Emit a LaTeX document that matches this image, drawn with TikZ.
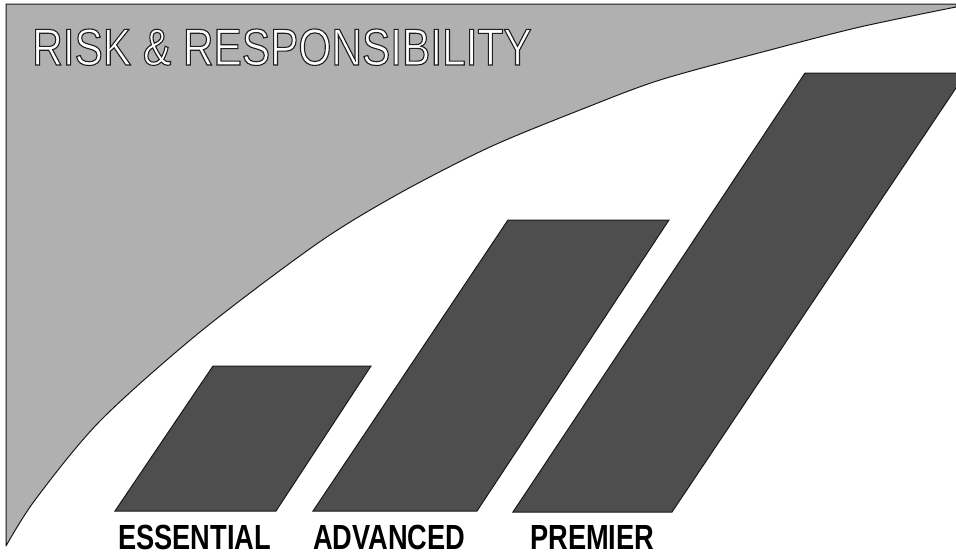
\documentclass[tikz,border=0pt]{standalone}
\usepackage{fontspec}
\setmainfont{Liberation Sans}
\newfontfamily\titlefont[FakeStretch=0.82]{Liberation Sans}
\newfontfamily\tierfont[FakeStretch=0.78]{Liberation Sans}
\definecolor{riskfill}{RGB}{176,176,176}
\definecolor{tierfill}{RGB}{78,78,78}
\definecolor{inkline}{RGB}{25,25,25}
% white letters with a dark stroked outline (text render mode 2)
\newcommand\hollowtext[1]{\special{pdf:literal direct 2 Tr 1.1 w 0.12 G}#1\special{pdf:literal direct 0 Tr}}
\tikzset{
  riskarea/.style={fill=riskfill, draw=inkline, line width=1pt, line join=round},
  tierbar/.style={fill=tierfill, draw=inkline, line width=1pt, line join=miter},
  tierlabel/.style={anchor=base west, inner sep=0pt, text=black, text depth=0pt,
    font=\tierfont\bfseries\fontsize{34.9}{40}\selectfont},
  headline/.style={anchor=base west, inner sep=0pt, text=white,
    font=\titlefont\fontsize{51.7}{60}\selectfont}
}
\begin{document}
\begin{tikzpicture}[x=1pt, y=-1pt]
\useasboundingbox (0,0) rectangle (956,554);
\clip (0,0) rectangle (956,554);
\fill[white] (0,0) rectangle (956,554);

% rising risk area
\path[riskarea] (6,4) -- (956,4) -- plot[smooth, tension=0.5] coordinates {
  (956,7) (860,27) (770,50) (660,80) (580,110) (490,147) (400,193)
  (318,243) (200,332) (100,421) (35,500) (6,546)
} -- cycle;

\node[headline] (title) at (32,65) {\hollowtext{RISK \& RESPONSIBILITY}};

% service tiers
\path[tierbar] (115,511) -- (276,511) -- (371,366) -- (213,366) -- cycle;
\path[tierbar] (313,511) -- (477,511) -- (669,220) -- (508,220) -- cycle;
\path[tierbar] (513,512) -- (672,512) -- (966,73) -- (805,73) -- cycle;

\node[tierlabel] (essential) at (118,549) {ESSENTIAL};
\node[tierlabel] (advanced) at (313,549) {ADVANCED};
\node[tierlabel] (premier) at (530,549) {PREMIER};
\end{tikzpicture}
\end{document}
